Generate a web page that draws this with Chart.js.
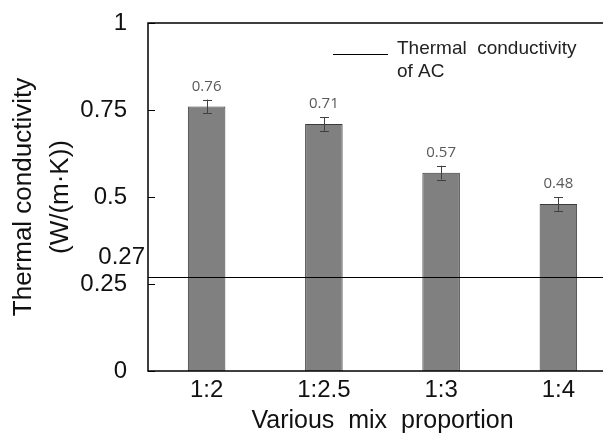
<!DOCTYPE html>
<html>
<head>
<meta charset="utf-8">
<style>
  html, body { margin: 0; padding: 0; background: #fff; overflow: hidden; }
  .chart-container { width: 620px; height: 436px; }
</style>
</head>
<body>
<div class="chart-container">
    <canvas id="tcChart" width="620" height="436"></canvas>
</div>

<script src="https://cdn.jsdelivr.net/npm/chart.js"></script>
<script>
    // data
    const mixLabels = ['1:2', '1:2.5', '1:3', '1:4'];
    const conductivity = [0.76, 0.71, 0.57, 0.48];
    const errorBars = [0.02, 0.02, 0.02, 0.02];
    const acValue = 0.27;
    const yTicks = [0, 0.25, 0.5, 0.75, 1];

    const FONT = 'Liberation Sans, Arial, sans-serif';

    // frame, inward ticks, AC line, error bars, value labels, legend
    const decorPlugin = {
        id: 'decor',
        afterDatasetsDraw(chart) {
            const ctx = chart.ctx;
            const area = chart.chartArea;
            const y = chart.scales.y;
            const meta = chart.getDatasetMeta(0);
            ctx.save();

            // error bars
            ctx.strokeStyle = '#404040';
            ctx.lineWidth = 1;
            meta.data.forEach((bar, i) => {
                const top = y.getPixelForValue(conductivity[i] + errorBars[i]);
                const bot = y.getPixelForValue(conductivity[i] - errorBars[i]);
                const x = Math.round(bar.x) + 0.5;
                ctx.beginPath();
                ctx.moveTo(x, top); ctx.lineTo(x, bot);
                ctx.moveTo(x - 4.5, Math.round(top) + 0.5); ctx.lineTo(x + 4.5, Math.round(top) + 0.5);
                ctx.moveTo(x - 4.5, Math.round(bot) + 0.5); ctx.lineTo(x + 4.5, Math.round(bot) + 0.5);
                ctx.stroke();

                // value labels
                ctx.fillStyle = '#595959';
                ctx.font = '15px "Open Sans", sans-serif';
                ctx.textAlign = 'center';
                ctx.textBaseline = 'middle';
                ctx.fillText(conductivity[i].toFixed(2), bar.x, top - 13);
            });

            // AC reference line
            const yAc = Math.round(y.getPixelForValue(acValue)) + 0.5;
            ctx.strokeStyle = '#000';
            ctx.beginPath();
            ctx.moveTo(area.left, yAc);
            ctx.lineTo(area.right, yAc);
            ctx.stroke();
            ctx.fillStyle = '#111';
            ctx.font = '24px ' + FONT;
            ctx.textAlign = 'right';
            ctx.fillText(acValue.toFixed(2), area.left - 3, yAc - 20);

            // plot frame
            ctx.strokeStyle = '#000';
            ctx.lineWidth = 1.5;
            ctx.strokeRect(area.left, area.top, area.right - area.left, area.bottom - area.top);

            // inward tick marks
            ctx.lineWidth = 1;
            yTicks.forEach(v => {
                const py = Math.round(y.getPixelForValue(v)) + 0.5;
                ctx.beginPath();
                ctx.moveTo(area.left, py);
                ctx.lineTo(area.left + 7, py);
                ctx.stroke();
            });

            // legend
            ctx.beginPath();
            ctx.moveTo(333, 54.5);
            ctx.lineTo(388, 54.5);
            ctx.stroke();
            ctx.fillStyle = '#222';
            ctx.font = '19px ' + FONT;
            ctx.textAlign = 'left';
            ctx.textBaseline = 'middle';
            ctx.fillText('Thermal  conductivity', 397, 49);
            ctx.fillText('of AC', 397, 72);

            ctx.restore();
        }
    };

    new Chart(document.getElementById('tcChart').getContext('2d'), {
        type: 'bar',
        data: {
            labels: mixLabels,
            datasets: [{
                label: 'Thermal conductivity',
                data: conductivity,
                backgroundColor: '#808080',
                borderColor: '#3a3a3a',
                borderWidth: 1,
                barPercentage: 0.32,
                categoryPercentage: 1
            }]
        },
        options: {
            responsive: false,
            animation: false,
            layout: { padding: { top: 23, right: 3, left: 0, bottom: 0 } },
            plugins: {
                legend: { display: false },
                tooltip: { enabled: false }
            },
            scales: {
                x: {
                    grid: { display: false, drawTicks: false },
                    border: { display: false },
                    ticks: {
                        color: '#111',
                        font: { family: FONT, size: 24 },
                        padding: 5,
                        maxRotation: 0
                    },
                    title: {
                        display: true,
                        text: 'Various  mix  proportion',
                        color: '#111',
                        font: { family: FONT, size: 25 },
                        padding: { top: 0, bottom: 0 }
                    },
                    afterFit(scale) {
                        scale.height = 65;
                        scale.paddingLeft = 0;
                        scale.paddingRight = 0;
                    }
                },
                y: {
                    min: 0,
                    max: 1,
                    grid: { display: false, drawTicks: false },
                    border: { display: false },
                    afterBuildTicks(scale) {
                        scale.ticks = yTicks.map(v => ({ value: v }));
                    },
                    ticks: {
                        color: '#111',
                        font: { family: FONT, size: 24 },
                        padding: 21,
                        callback: v => String(v)
                    },
                    title: {
                        display: true,
                        text: ['Thermal conductivity', '(W/(m\u00b7K))'],
                        color: '#111',
                        font: { family: FONT, size: 26, lineHeight: 1.4 },
                        padding: { top: 6, bottom: 0 }
                    },
                    afterFit(scale) {
                        scale.width = 148;
                        scale.paddingTop = 0;
                        scale.paddingBottom = 0;
                    }
                }
            }
        },
        plugins: [decorPlugin]
    });
</script>
</body>
</html>
